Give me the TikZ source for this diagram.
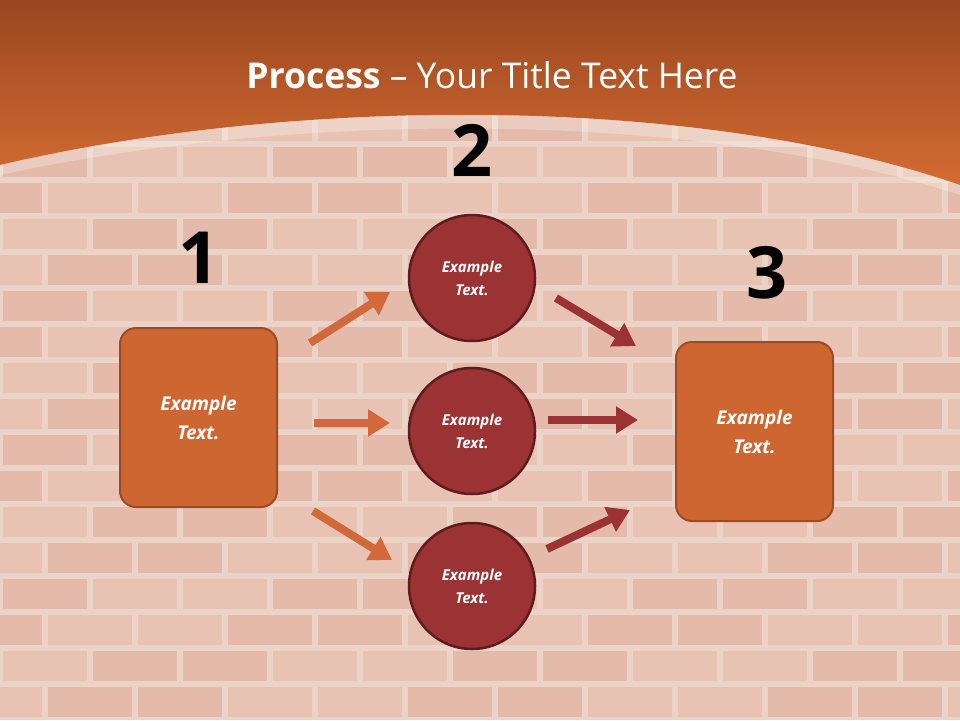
\documentclass[tikz,border=0pt]{standalone}
\usepackage{fontspec}
\setmainfont{Open Sans}
\usetikzlibrary{arrows.meta}
\definecolor{mortar}{HTML}{ECD3C7}
\definecolor{brick}{HTML}{E4BAAA}
\definecolor{brickb}{HTML}{E8C3B4}
\definecolor{hdtop}{HTML}{9A4620}
\definecolor{hdbot}{HTML}{D46C32}
\definecolor{boxfill}{HTML}{CD6630}
\definecolor{boxedge}{HTML}{9E4A22}
\definecolor{circfill}{HTML}{9B3234}
\definecolor{circedge}{HTML}{5E1C1E}
\definecolor{arrowL}{HTML}{D2693A}
\definecolor{arrowR}{HTML}{9B3234}
\tikzset{
 sqbox/.style={draw=boxedge,line width=2pt,fill=boxfill,rounded corners=16pt,minimum width=157pt,minimum height=179pt,font=\bfseries\itshape\fontsize{19}{29}\selectfont,text=white,align=center},
 circ/.style={circle,draw=circedge,line width=2.5pt,fill=circfill,minimum size=126pt,font=\bfseries\itshape\fontsize{15}{23}\selectfont,text=white,align=center},
 num/.style={font=\bfseries\fontsize{72}{72}\selectfont},
 barL/.style={line width=8pt,draw=arrowL,-{Triangle[length=22pt,width=26pt]}},
 barR/.style={line width=8pt,draw=arrowR,-{Triangle[length=22pt,width=26pt]}}
}
\begin{document}
\begin{tikzpicture}[x=1pt,y=-1pt]
\useasboundingbox (0,0) rectangle (960,720);
\fill[mortar] (0,0) rectangle (960,720);
\foreach \r in {0,...,20}{
  \pgfmathsetmacro{\yy}{\r*36}
  \pgfmathsetmacro{\off}{mod(\r,2)*45}
  \foreach \c in {-1,...,10}{
    \pgfmathsetmacro{\sh}{mod(\r*7+\c*3,4)}
    \ifdim\sh pt<2pt \def\bc{brick}\else\def\bc{brickb}\fi
    \fill[\bc] ({\c*90+\off+3},{\yy+3}) rectangle ({\c*90+\off+87},{\yy+33});
  }
}
\shade[top color=hdtop,bottom color=hdbot] (0,0) -- (960,0) -- (960,185) .. controls (700,95) and (300,95) .. (0,165) -- cycle;
\fill[white,opacity=0.25] (0,165) .. controls (300,95) and (700,95) .. (960,185) -- (960,195) .. controls (700,110) and (300,110) .. (0,175) -- cycle;
\node[text=white,font=\fontsize{35.5}{40}\selectfont] (title) at (492,75) {\textbf{Process} – Your Title Text Here};
\node[sqbox] (b1) at (198.5,417.5) {Example\\Text.};
\node[sqbox] (b3) at (754.5,431.5) {Example\\Text.};
\node[circ] (c1) at (472,278) {Example\\Text.};
\node[circ] (c2) at (472,431) {Example\\Text.};
\node[circ] (c3) at (472,586) {Example\\Text.};
\node[num] (n1) at (199,258) {1};
\node[num] (n2) at (472,150) {2};
\node[num] (n3) at (767,273) {3};
\coordinate (a1s) at (310,343); \coordinate (a1e) at (390,292);
\coordinate (a2s) at (314,423); \coordinate (a2e) at (390,423);
\coordinate (a3s) at (313,511); \coordinate (a3e) at (392,560);
\coordinate (a4s) at (556,298); \coordinate (a4e) at (636,346);
\coordinate (a5s) at (548,420); \coordinate (a5e) at (638,420);
\coordinate (a6s) at (547,549); \coordinate (a6e) at (630,510);
\draw[barL] (a1s) -- (a1e);
\draw[barL] (a2s) -- (a2e);
\draw[barL] (a3s) -- (a3e);
\draw[barR] (a4s) -- (a4e);
\draw[barR] (a5s) -- (a5e);
\draw[barR] (a6s) -- (a6e);
\end{tikzpicture}
\end{document}
